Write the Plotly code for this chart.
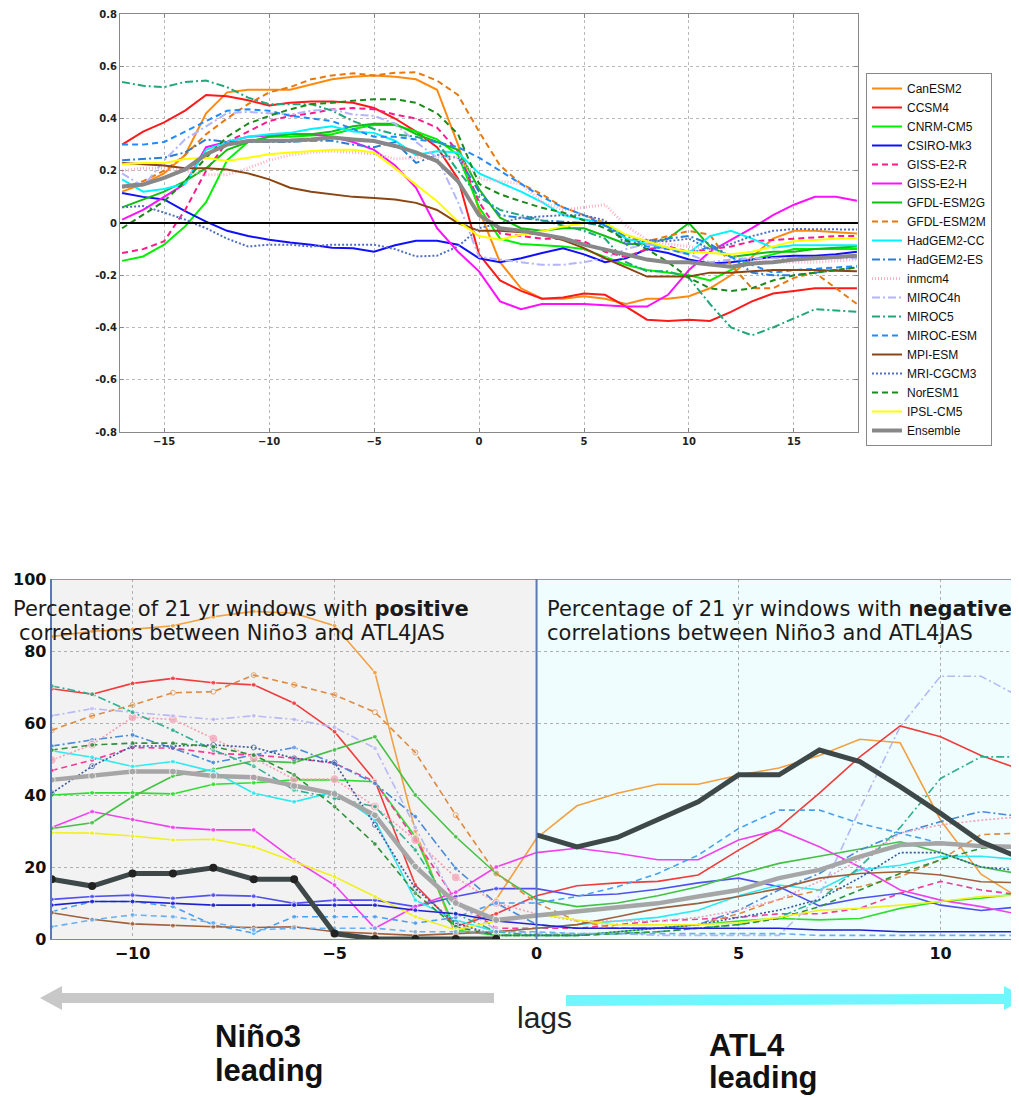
import plotly.graph_objects as go

# The page body has an 8px margin, so the figure is drawn 8px smaller and all
# pixel positions below are given in window coordinates minus that offset.
OFF = 8
W, H = 1019 - OFF, 1097 - OFF


def fx(p):
    return (p - OFF) / W


def fy(p):
    return 1 - (p - OFF) / H


# ---------------- TOP PANEL DATA (lag -17 .. 18) ----------------
top_lags = list(range(-17, 19))

top_CanESM2 = [0.12, 0.15, 0.19, 0.26, 0.42, 0.50, 0.51, 0.51, 0.51, 0.53, 0.55, 0.56, 0.565, 0.56, 0.55, 0.51, 0.30, 0.05,
               -0.15, -0.25, -0.29, -0.29, -0.28, -0.29, -0.31, -0.29, -0.29, -0.28, -0.25, -0.20, -0.13, -0.06, -0.03, -0.03, -0.035, -0.04]
top_CCSM4 = [0.30, 0.35, 0.385, 0.43, 0.49, 0.485, 0.47, 0.45, 0.46, 0.465, 0.465, 0.46, 0.44, 0.40, 0.35, 0.29, 0.17, -0.12,
             -0.22, -0.26, -0.29, -0.285, -0.27, -0.275, -0.32, -0.37, -0.375, -0.37, -0.375, -0.34, -0.30, -0.27, -0.26, -0.25, -0.25, -0.25]
top_CNRM_CM5 = [-0.145, -0.128, -0.083, -0.013, 0.08, 0.24, 0.31, 0.33, 0.33, 0.335, 0.34, 0.36, 0.375, 0.375, 0.35, 0.32, 0.26, 0.06,
                -0.06, -0.08, -0.085, -0.09, -0.10, -0.13, -0.16, -0.18, -0.19, -0.20, -0.22, -0.18, -0.14, -0.12, -0.10, -0.10, -0.10, -0.10]
top_CSIRO_Mk3 = [0.115, 0.10, 0.09, 0.045, 0.005, -0.03, -0.05, -0.064, -0.075, -0.083, -0.095, -0.097, -0.11, -0.085, -0.068, -0.068, -0.083, -0.135,
                 -0.15, -0.135, -0.115, -0.097, -0.12, -0.15, -0.135, -0.10, -0.115, -0.14, -0.155, -0.15, -0.14, -0.13, -0.125, -0.125, -0.12, -0.11]
top_GISS_E2_R = [-0.115, -0.10, -0.07, 0.05, 0.20, 0.31, 0.35, 0.39, 0.41, 0.42, 0.435, 0.44, 0.435, 0.415, 0.40, 0.365, 0.275, 0.08,
                 -0.04, -0.05, -0.06, -0.06, -0.07, -0.11, -0.13, -0.10, -0.09, -0.11, -0.10, -0.09, -0.07, -0.065, -0.06, -0.055, -0.05, -0.05]
top_GISS_E2_H = [0.013, 0.05, 0.10, 0.15, 0.29, 0.31, 0.33, 0.335, 0.34, 0.34, 0.33, 0.31, 0.28, 0.22, 0.135, -0.02, -0.11, -0.185,
                 -0.30, -0.33, -0.31, -0.31, -0.31, -0.315, -0.32, -0.32, -0.275, -0.18, -0.11, -0.065, -0.02, 0.03, 0.07, 0.10, 0.10, 0.085]
top_GFDL_ESM2G = [0.06, 0.09, 0.12, 0.16, 0.21, 0.28, 0.31, 0.33, 0.34, 0.34, 0.35, 0.37, 0.38, 0.38, 0.34, 0.31, 0.28, 0.13,
                  0.02, -0.02, -0.03, -0.02, -0.02, -0.05, -0.08, -0.08, -0.06, 0.0, -0.09, -0.13, -0.12, -0.11, -0.11, -0.10, -0.095, -0.09]
top_GFDL_ESM2M = [0.135, 0.16, 0.20, 0.26, 0.34, 0.40, 0.455, 0.50, 0.52, 0.55, 0.565, 0.573, 0.565, 0.575, 0.577, 0.545, 0.49, 0.35,
                  0.22, 0.15, 0.11, 0.06, 0.03, 0.0, -0.06, -0.07, -0.05, -0.03, -0.045, -0.16, -0.25, -0.25, -0.21, -0.19, -0.25, -0.31]
top_HadGEM2_CC = [0.167, 0.12, 0.13, 0.15, 0.28, 0.31, 0.33, 0.34, 0.345, 0.36, 0.37, 0.35, 0.345, 0.315, 0.26, 0.275, 0.27, 0.19,
                  0.155, 0.12, 0.08, 0.03, 0.013, 0.0, -0.06, -0.08, -0.095, -0.115, -0.05, -0.03, -0.06, -0.095, -0.085, -0.085, -0.085, -0.085]
top_HadGEM2_ES = [0.24, 0.245, 0.25, 0.27, 0.32, 0.31, 0.31, 0.31, 0.31, 0.315, 0.315, 0.30, 0.29, 0.31, 0.23, 0.26, 0.25, 0.12,
                  0.03, 0.02, 0.01, 0.005, 0.0, -0.01, -0.05, -0.07, -0.06, -0.05, -0.08, -0.13, -0.19, -0.20, -0.20, -0.19, -0.18, -0.17]
top_inmcm4 = [0.20, 0.21, 0.21, 0.20, 0.185, 0.185, 0.21, 0.24, 0.26, 0.27, 0.275, 0.27, 0.265, 0.245, 0.25, 0.255, 0.25, 0.17,
              0.16, 0.15, 0.08, 0.05, 0.06, 0.07, -0.01, -0.065, -0.08, -0.09, -0.10, -0.13, -0.14, -0.15, -0.15, -0.15, -0.145, -0.14]
top_MIROC4h = [0.19, 0.14, 0.24, 0.32, 0.37, 0.42, 0.425, 0.42, 0.415, 0.43, 0.435, 0.415, 0.41, 0.38, 0.31, 0.25, 0.08, -0.13,
               -0.14, -0.15, -0.16, -0.16, -0.15, -0.135, -0.10, -0.08, -0.10, -0.12, -0.15, -0.14, -0.135, -0.135, -0.135, -0.135, -0.135, -0.135]
top_MIROC5 = [0.54, 0.525, 0.52, 0.54, 0.545, 0.52, 0.48, 0.455, 0.455, 0.455, 0.43, 0.39, 0.36, 0.34, 0.33, 0.31, 0.20, 0.10,
              0.05, 0.03, 0.01, -0.01, -0.03, -0.06, -0.15, -0.185, -0.185, -0.21, -0.31, -0.40, -0.43, -0.40, -0.365, -0.33, -0.335, -0.34]
top_MIROC_ESM = [0.30, 0.30, 0.31, 0.35, 0.39, 0.43, 0.435, 0.43, 0.41, 0.40, 0.39, 0.36, 0.33, 0.33, 0.32, 0.31, 0.29, 0.25,
                 0.20, 0.15, 0.10, 0.06, 0.03, -0.01, -0.07, -0.09, -0.10, -0.12, -0.09, -0.13, -0.16, -0.19, -0.18, -0.175, -0.17, -0.165]
top_MPI_ESM = [0.23, 0.225, 0.22, 0.21, 0.21, 0.205, 0.19, 0.167, 0.135, 0.12, 0.11, 0.10, 0.096, 0.09, 0.077, 0.05, 0.0, -0.03,
               -0.03, -0.035, -0.045, -0.065, -0.096, -0.135, -0.17, -0.205, -0.205, -0.205, -0.19, -0.19, -0.185, -0.18, -0.18, -0.18, -0.183, -0.185]
top_MRI_CGCM3 = [0.06, 0.065, 0.04, 0.013, -0.02, -0.06, -0.09, -0.083, -0.083, -0.09, -0.083, -0.083, -0.083, -0.10, -0.128, -0.125, -0.09, -0.02,
                 0.0, 0.02, 0.025, 0.03, 0.03, 0.01, -0.085, -0.065, -0.07, -0.06, -0.10, -0.08, -0.05, -0.03, -0.023, -0.023, -0.025, -0.025]
top_NorESM1 = [-0.02, 0.03, 0.083, 0.16, 0.25, 0.33, 0.38, 0.41, 0.435, 0.455, 0.46, 0.468, 0.474, 0.474, 0.46, 0.42, 0.34, 0.15,
               0.11, 0.083, 0.058, 0.04, 0.01, -0.02, -0.065, -0.10, -0.15, -0.21, -0.25, -0.26, -0.25, -0.22, -0.20, -0.19, -0.18, -0.17]
top_IPSL_CM5 = [0.225, 0.23, 0.23, 0.245, 0.25, 0.237, 0.25, 0.263, 0.27, 0.275, 0.28, 0.28, 0.27, 0.21, 0.147, 0.083, 0.006, -0.05,
                -0.064, -0.045, -0.032, -0.013, 0.0, 0.0, -0.045, -0.07, -0.095, -0.11, -0.115, -0.12, -0.11, -0.09, -0.07, -0.065, -0.06, -0.058]
top_Ensemble = [0.14, 0.147, 0.173, 0.205, 0.263, 0.30, 0.314, 0.314, 0.316, 0.32, 0.327, 0.32, 0.314, 0.295, 0.27, 0.237, 0.16, 0.03,
                -0.02, -0.03, -0.045, -0.058, -0.083, -0.10, -0.12, -0.14, -0.15, -0.15, -0.16, -0.167, -0.155, -0.15, -0.14, -0.135, -0.13, -0.125]

top_names = ["CanESM2", "CCSM4", "CNRM-CM5", "CSIRO-Mk3", "GISS-E2-R", "GISS-E2-H", "GFDL-ESM2G",
             "GFDL-ESM2M", "HadGEM2-CC", "HadGEM2-ES", "inmcm4", "MIROC4h", "MIROC5", "MIROC-ESM",
             "MPI-ESM", "MRI-CGCM3", "NorESM1", "IPSL-CM5", "Ensemble"]
top_values = [top_CanESM2, top_CCSM4, top_CNRM_CM5, top_CSIRO_Mk3, top_GISS_E2_R, top_GISS_E2_H,
              top_GFDL_ESM2G, top_GFDL_ESM2M, top_HadGEM2_CC, top_HadGEM2_ES, top_inmcm4, top_MIROC4h,
              top_MIROC5, top_MIROC_ESM, top_MPI_ESM, top_MRI_CGCM3, top_NorESM1, top_IPSL_CM5, top_Ensemble]
top_y_ticks = [-0.8, -0.6, -0.4, -0.2, 0, 0.2, 0.4, 0.6, 0.8]
top_y_ticklabels = ["-0.8", "-0.6", "-0.4", "-0.2", "0", "0.2", "0.4", "0.6", "0.8"]
top_x_ticks = [-15, -10, -5, 0, 5, 10, 15]

# ---------------- BOTTOM PANEL DATA (lag -12 .. 12) ----------------
bot_lags = list(range(-12, 13))

bot_CanESM2 = [84, 85.5, 86, 87, 89.5, 91, 90.5, 87, 74, 30, 1, 11, 28, 37, 40.5, 43, 43, 45.5, 47.5, 51, 55.5, 54.5, 33, 18, 11]
bot_CCSM4 = [69.5, 68, 71, 72.4, 71.2, 70.6, 65.5, 57.6, 44, 15, 3.5, 7, 12, 14.8, 15.6, 16, 17.8, 24.7, 31, 40.5, 50.6, 59.2, 56.2, 51, 47]
bot_CNRM_CM5 = [40, 40.6, 40.6, 40.3, 43, 43.4, 44.2, 44.2, 43.7, 28.4, 2.5, 1, 1, 1, 2, 3, 4, 5, 5.7, 5.3, 5.7, 8.5, 10.4, 11.3, 12.7]
bot_CSIRO_Mk3 = [11, 11.8, 12.2, 11.3, 12.2, 11.9, 9.9, 10.8, 10.8, 9, 11.8, 14, 14, 12, 12.5, 13.8, 15.6, 16.9, 14.5, 9.2, 11.3, 12.7, 9.4, 7.9, 9]
bot_GISS_E2_R = [46.8, 49.7, 53.2, 53, 51.6, 51.1, 50.2, 48.8, 43.7, 27.5, 10.8, 3, 3, 3, 4, 5, 5.5, 6, 7, 7, 8.5, 12.7, 16, 13.6, 12.2]
bot_GISS_E2_H = [31, 35.4, 33.2, 31, 30.3, 30.3, 22, 15, 3, 9, 13, 20, 24, 25.2, 23.8, 22, 22, 27.5, 30.3, 25.6, 20, 13.6, 10.8, 9, 6.7]
bot_GFDL_ESM2G = [30.7, 32.3, 39.5, 45.3, 47.1, 49.5, 49, 52.5, 56.2, 40, 28.4, 18.2, 11, 9, 10, 12, 14.5, 18, 21, 23, 25, 27, 24, 20, 18]
bot_GFDL_ESM2M = [58, 62, 65, 68.4, 68.7, 73.3, 70.6, 67.8, 63, 51.8, 34.4, 18.2, 10, 5, 3, 3, 4, 7, 11, 13.6, 14.5, 17.3, 22, 29, 29.4]
bot_HadGEM2_CC = [52.3, 50.5, 47.9, 49.3, 46.5, 40.5, 38.1, 40.9, 33, 10.8, 5.3, 2, 3, 4, 5, 6, 8, 12, 15, 13.6, 19.2, 20.5, 22.9, 23, 22]
bot_HadGEM2_ES = [53.6, 55.3, 56.7, 53, 49, 51, 53.2, 48.8, 43.2, 34, 19.6, 10, 4, 3, 3, 3, 4, 8, 13.6, 18.2, 24.7, 29.4, 32.6, 35.4, 34]
bot_inmcm4 = [49.7, 54, 61.6, 61, 55.7, 50.2, 44.4, 44.4, 36.8, 27.5, 17.1, 10, 7, 5, 5, 5, 6, 8, 11, 16, 22, 29.4, 31.7, 33, 34]
bot_MIROC4h = [62, 64, 63, 62, 61, 62, 61, 58.8, 53, 31, 10, 2.5, 1.5, 1.5, 1.5, 1, 1, 1, 1, 12, 36, 59, 73, 73, 67]
bot_MIROC5 = [70.3, 68, 63, 58, 52.5, 48, 41.4, 39, 36.8, 24.7, 7, 2, 1, 1, 1.5, 2, 3, 4, 6, 10.8, 20, 31, 44.6, 50.6, 50.6]
bot_MIROC_ESM = [7.6, 10.4, 10.4, 9, 3.9, 1.6, 6.2, 6.2, 6.2, 4.4, 6, 10, 10, 11.8, 14.5, 18.2, 23.3, 30.7, 35.8, 35.8, 32.1, 29.4, 26.6, 25.6, 25.2]
bot_MPI_ESM = [7.3, 5.5, 4.2, 3.7, 3.4, 3.2, 3.4, 2, 1.5, 1, 1.5, 2, 3, 4, 6.2, 8.5, 9.9, 11.8, 14, 16.9, 18.2, 18.7, 17.8, 15.9, 15.6]
bot_MRI_CGCM3 = [40.5, 48, 53.6, 53.6, 53.9, 53.2, 50.2, 49, 31.7, 14, 4.4, 1, 1, 1, 2, 3, 4, 6, 8, 11, 17, 24, 24, 20, 19]
bot_NorESM1 = [52.5, 53.9, 54.4, 54.4, 53.4, 51.1, 45.6, 36.8, 26.4, 12.7, 3.4, 1, 1, 1, 1.5, 2, 3, 4, 5.7, 9, 13.6, 18.2, 22, 25.2, 26]
bot_IPSL_CM5 = [29.5, 29.4, 28.6, 27.5, 27.7, 25.6, 21.5, 17.3, 11.8, 6.2, 2.5, 5, 7, 5.3, 3.9, 4, 4, 4.5, 6, 8, 8.5, 9.4, 10.4, 11.8, 12.2]
bot_extra_blue = [9.4, 10.4, 10.4, 9.9, 9.4, 9.4, 9.4, 9.4, 9.4, 8, 7, 5, 4, 3, 3, 3, 3, 3, 3, 2.5, 2.5, 2, 2, 2, 2]
bot_extra_lightblue = [3.4, 5.3, 6.7, 6.2, 4.5, 2.5, 3, 3, 3, 2, 2, 2, 2, 1.5, 1.5, 1.5, 1.5, 1.5, 1.5, 1, 1, 1, 1, 1, 1]
bot_Ensemble = [44.2, 45.3, 46.5, 46.5, 45.3, 44.9, 42.5, 40.3, 34.4, 20.1, 10, 5.3, 6.5, 7.6, 8.5, 9.9, 11.8, 13.6, 16.9, 19.2, 22.9, 26.1, 26.6, 25.8, 25.6]

obs_lags_pos = list(range(-12, 0))
obs_pos = [16.6, 14.7, 18.2, 18.2, 19.8, 16.6, 16.6, 1.5, 0, 0, 0, 0]
obs_lags_neg = list(range(0, 13))
obs_neg = [28.9, 25.6, 28.2, 33, 38.1, 45.6, 45.6, 52.5, 49.3, 42.3, 34.9, 27, 22.4]

bot_names = ["CanESM2", "CCSM4", "CNRM-CM5", "CSIRO-Mk3", "GISS-E2-R", "GISS-E2-H", "GFDL-ESM2G",
             "GFDL-ESM2M", "HadGEM2-CC", "HadGEM2-ES", "inmcm4", "MIROC4h", "MIROC5", "MIROC-ESM",
             "MPI-ESM", "MRI-CGCM3", "NorESM1", "IPSL-CM5", "extra1", "extra2"]
bot_values = [bot_CanESM2, bot_CCSM4, bot_CNRM_CM5, bot_CSIRO_Mk3, bot_GISS_E2_R, bot_GISS_E2_H,
              bot_GFDL_ESM2G, bot_GFDL_ESM2M, bot_HadGEM2_CC, bot_HadGEM2_ES, bot_inmcm4, bot_MIROC4h,
              bot_MIROC5, bot_MIROC_ESM, bot_MPI_ESM, bot_MRI_CGCM3, bot_NorESM1, bot_IPSL_CM5,
              bot_extra_blue, bot_extra_lightblue]
bot_y_ticks = [0, 20, 40, 60, 80, 100]
bot_x_ticks = [-10, -5, 0, 5, 10]

# ---------------- STYLES ----------------
DASH = "6px,4px"
DASHDOT = "8px,3px,2px,3px"
DOT = "2px,2px"
top_styles = {
    "CanESM2": ("#ff8a10", "solid", 2),
    "CCSM4": ("#ff1a1a", "solid", 2),
    "CNRM-CM5": ("#00f000", "solid", 2),
    "CSIRO-Mk3": ("#1010ff", "solid", 2),
    "GISS-E2-R": ("#ff1a8c", DASH, 2),
    "GISS-E2-H": ("#ff10ff", "solid", 2),
    "GFDL-ESM2G": ("#10c010", "solid", 2),
    "GFDL-ESM2M": ("#e8780c", DASH, 2),
    "HadGEM2-CC": ("#00f4ff", "solid", 2),
    "HadGEM2-ES": ("#2a7fd4", DASHDOT, 2),
    "inmcm4": ("#ffb0c4", "1px,2px", 3),
    "MIROC4h": ("#b4b4ff", DASHDOT, 2),
    "MIROC5": ("#20a87c", DASHDOT, 2),
    "MIROC-ESM": ("#1e8cff", DASH, 2),
    "MPI-ESM": ("#8b4513", "solid", 2),
    "MRI-CGCM3": ("#5070c0", DOT, 2),
    "NorESM1": ("#1a8a1a", DASH, 2),
    "IPSL-CM5": ("#ffff00", "solid", 2),
    "Ensemble": ("#888888", "solid", 4),
}
bot_styles = {
    "CanESM2": ("#f2a040", "solid"),
    "CCSM4": ("#f03c3c", "solid"),
    "CNRM-CM5": ("#30dd30", "solid"),
    "CSIRO-Mk3": ("#5050f0", "solid"),
    "GISS-E2-R": ("#f03c96", DASH),
    "GISS-E2-H": ("#f040f0", "solid"),
    "GFDL-ESM2G": ("#44c044", "solid"),
    "GFDL-ESM2M": ("#e08a40", DASH),
    "HadGEM2-CC": ("#30e8f0", "solid"),
    "HadGEM2-ES": ("#4a8ad8", DASHDOT),
    "inmcm4": ("#f4a0b4", "2px,2px"),
    "MIROC4h": ("#b8b8f4", DASHDOT),
    "MIROC5": ("#30b090", DASHDOT),
    "MIROC-ESM": ("#4aa0f0", DASH),
    "MPI-ESM": ("#a0603c", "solid"),
    "MRI-CGCM3": ("#3a5aa0", DOT),
    "NorESM1": ("#30903a", DASH),
    "IPSL-CM5": ("#f0f020", "solid"),
    "extra1": ("#2020d0", "solid"),
    "extra2": ("#6ab0f0", DASH),
}

fig = go.Figure()

# ---------------- TOP PANEL ----------------
for name, vals in zip(top_names, top_values):
    color, dash, width = top_styles[name]
    fig.add_trace(go.Scatter(x=top_lags, y=vals, mode="lines", name=name,
                             line=dict(color=color, dash=dash, width=width),
                             xaxis="x", yaxis="y", showlegend=True))

# ---------------- BOTTOM PANEL ----------------
msize = [5 if l < 0 else 0 for l in bot_lags]
for name, vals in zip(bot_names, bot_values):
    color, dash = bot_styles[name]
    symbol = "circle-open" if name in ("MRI-CGCM3", "GFDL-ESM2M") else "circle"
    size = [9 if s else 0 for s in msize] if name == "inmcm4" else msize
    fig.add_trace(go.Scatter(x=bot_lags, y=vals, mode="lines+markers", name=name,
                             line=dict(color=color, dash=dash, width=1.6),
                             marker=dict(color=color, size=size, symbol=symbol),
                             xaxis="x2", yaxis="y2", showlegend=False))

fig.add_trace(go.Scatter(x=bot_lags, y=bot_Ensemble, mode="lines+markers", name="Ensemble",
                         line=dict(color="#a6a6a6", width=4.5),
                         marker=dict(color="#a6a6a6", size=[7 if s else 0 for s in msize]),
                         xaxis="x2", yaxis="y2", showlegend=False))
fig.add_trace(go.Scatter(x=obs_lags_pos, y=obs_pos, mode="lines+markers", name="Obs",
                         line=dict(color="#3e4848", width=5), marker=dict(color="#222", size=8),
                         xaxis="x2", yaxis="y2", showlegend=False))
fig.add_trace(go.Scatter(x=obs_lags_neg, y=obs_neg, mode="lines", name="Obs",
                         line=dict(color="#3e4848", width=5),
                         xaxis="x2", yaxis="y2", showlegend=False))

shapes = [
    # top zero line
    dict(type="line", xref="x", yref="y", x0=-17.1, x1=18.05, y0=0, y1=0,
         line=dict(color="black", width=2), layer="above"),
    # bottom backgrounds
    dict(type="rect", xref="x2", yref="y2", x0=-12.2, x1=0, y0=0, y1=100,
         fillcolor="#f2f2f2", line=dict(width=0), layer="below"),
    dict(type="rect", xref="x2", yref="y2", x0=0, x1=12.5, y0=0, y1=100,
         fillcolor="#effdfe", line=dict(width=0), layer="below"),
    # divider and top border
    dict(type="line", xref="x2", yref="y2", x0=0, x1=0, y0=0, y1=100,
         line=dict(color="#5a7ab5", width=2), layer="above"),
    dict(type="line", xref="x2", yref="y2", x0=-12, x1=12.5, y0=100, y1=100,
         line=dict(color="#5a7ab5", width=1.5), layer="above"),
    # gray arrow (pointing left)
    dict(type="path", xref="paper", yref="paper",
         path=f"M {fx(494)} {fy(993)} L {fx(62)} {fy(993)} L {fx(62)} {fy(986)} L {fx(40)} {fy(998)} "
              f"L {fx(62)} {fy(1010)} L {fx(62)} {fy(1003)} L {fx(494)} {fy(1003)} Z",
         fillcolor="#c8c8c8", line=dict(width=0)),
    # cyan arrow (pointing right)
    dict(type="path", xref="paper", yref="paper",
         path=f"M {fx(566)} {fy(995)} L {fx(1004)} {fy(994)} L {fx(1004)} {fy(986)} L {fx(1026)} {fy(998)} "
              f"L {fx(1004)} {fy(1010)} L {fx(1004)} {fy(1004)} L {fx(566)} {fy(1006)} Z",
         fillcolor="#70f6ff", line=dict(width=0)),
]

txt_font = dict(family="DejaVu Sans", size=21, color="#1a1a1a")
annotations = [
    dict(xref="paper", yref="paper", x=fx(11), y=fy(609), xanchor="left", yanchor="middle",
         text="Percentage of 21 yr windows with <b>positive</b>", showarrow=False, font=txt_font),
    dict(xref="paper", yref="paper", x=fx(17), y=fy(633), xanchor="left", yanchor="middle",
         text="correlations between Niño3 and ATL4JAS", showarrow=False, font=txt_font),
    dict(xref="paper", yref="paper", x=fx(545), y=fy(609), xanchor="left", yanchor="middle",
         text="Percentage of 21 yr windows with <b>negative</b>", showarrow=False, font=txt_font),
    dict(xref="paper", yref="paper", x=fx(545), y=fy(633), xanchor="left", yanchor="middle",
         text="correlations between Niño3 and ATL4JAS", showarrow=False, font=txt_font),
    dict(xref="paper", yref="paper", x=fx(544), y=fy(1017), xanchor="center", yanchor="middle",
         text="lags", showarrow=False, font=dict(family="Liberation Sans", size=30, color="#222")),
    dict(xref="paper", yref="paper", x=fx(213), y=fy(1036), xanchor="left", yanchor="middle",
         text="<b>Niño3</b>", showarrow=False, font=dict(family="Liberation Sans", size=31, color="#111")),
    dict(xref="paper", yref="paper", x=fx(213), y=fy(1070), xanchor="left", yanchor="middle",
         text="<b>leading</b>", showarrow=False, font=dict(family="Liberation Sans", size=31, color="#111")),
    dict(xref="paper", yref="paper", x=fx(707), y=fy(1045), xanchor="left", yanchor="middle",
         text="<b>ATL4</b>", showarrow=False, font=dict(family="Liberation Sans", size=31, color="#111")),
    dict(xref="paper", yref="paper", x=fx(707), y=fy(1077), xanchor="left", yanchor="middle",
         text="<b>leading</b>", showarrow=False, font=dict(family="Liberation Sans", size=31, color="#111")),
]

top_tickfont = dict(family="DejaVu Sans", size=10, color="#222", weight="bold")
bot_tickfont = dict(family="DejaVu Sans", size=16, color="#111", weight="bold")

fig.update_layout(
    width=W, height=H, margin=dict(l=0, r=0, t=0, b=0, autoexpand=False),
    paper_bgcolor="white", plot_bgcolor="rgba(0,0,0,0)",
    shapes=shapes, annotations=annotations,
    showlegend=True,
    legend=dict(x=fx(866), y=fy(73), xanchor="left", yanchor="top",
                bgcolor="white", bordercolor="#888888", borderwidth=1,
                font=dict(family="Liberation Sans", size=12, color="#111"),
                tracegroupgap=0, itemwidth=30),
    xaxis=dict(domain=[fx(120), fx(858)], range=[-17.1, 18.05], tickvals=top_x_ticks,
               showgrid=True, gridcolor="#b8b8b8", griddash="dot", gridwidth=1,
               showline=True, linecolor="#888888", linewidth=1, mirror="ticks",
               ticks="inside", ticklen=4, tickcolor="#888888", automargin=False,
               tickfont=top_tickfont, zeroline=False, anchor="y"),
    yaxis=dict(domain=[fy(432), fy(14)], range=[-0.8, 0.8], tickvals=top_y_ticks,
               ticktext=top_y_ticklabels,
               showgrid=True, gridcolor="#b8b8b8", griddash="dot", gridwidth=1,
               showline=True, linecolor="#888888", linewidth=1, mirror="ticks",
               ticks="inside", ticklen=4, tickcolor="#888888", automargin=False,
               tickfont=top_tickfont, zeroline=False, anchor="x"),
    xaxis2=dict(domain=[fx(51.7), 1.0], range=[-12, 11.94], tickvals=bot_x_ticks,
                showgrid=True, gridcolor="#b0b0b0", griddash="dot", gridwidth=1,
                showline=True, linecolor="#7a8aa0", linewidth=1, automargin=False,
                ticks="", tickfont=bot_tickfont, zeroline=False, anchor="y2"),
    yaxis2=dict(domain=[fy(939), fy(579)], range=[0, 100], tickvals=bot_y_ticks,
                showgrid=True, gridcolor="#b0b0b0", griddash="dot", gridwidth=1,
                showline=True, linecolor="#5a7ab5", linewidth=2, automargin=False,
                ticks="", tickfont=bot_tickfont, zeroline=False, anchor="x2"),
)

fig.write_html("out.html")
